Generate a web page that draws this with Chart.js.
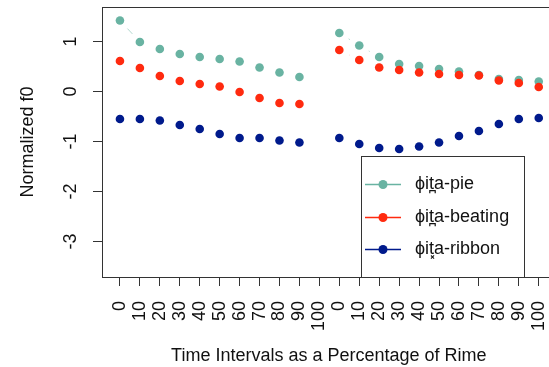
<!DOCTYPE html>
<html lang="en">
<head>
<meta charset="UTF-8">
<title>Normalized f0 over the rime</title>
<script src="https://cdn.jsdelivr.net/npm/chart.js"></script>
<style>
  html, body { margin: 0; padding: 0; background: #fff; overflow: hidden; }
  #f0Canvas { display: block; }
</style>
</head>
<body>
<canvas id="f0Canvas" width="560" height="367"></canvas>
<script>
// two rimes, each sampled at 0..100 % (the first one has no value at 100)
const tickLabels = ["0", "10", "20", "30", "40", "50", "60", "70", "80", "90", "100",
                    "0", "10", "20", "30", "40", "50", "60", "70", "80", "90", "100"];
const yTickValues = [-3, -2, -1, 0, 1];
const seriesNames = ["\u03D5it\u032Aa-pie", "\u03D5it\u032Aa-beating", "\u03D5it\u0353a-ribbon"];
const seriesColors = ["#69b3a2", "#ff2a0f", "#001a8c"];
const lineColors = ["rgba(105,179,162,0.5)", "rgba(255,42,15,0.5)", "rgba(0,26,140,0.5)"];

const pieValues     = [1.42, 0.99, 0.85, 0.75, 0.69, 0.65, 0.60, 0.48, 0.38, 0.29, null,
                       1.17, 0.92, 0.69, 0.55, 0.51, 0.45, 0.40, 0.33, 0.25, 0.23, 0.20];
const beatingValues = [0.61, 0.47, 0.31, 0.21, 0.15, 0.10, -0.01, -0.13, -0.23, -0.25, null,
                       0.83, 0.63, 0.48, 0.43, 0.38, 0.35, 0.33, 0.32, 0.22, 0.17, 0.09];
const ribbonValues  = [-0.55, -0.55, -0.58, -0.67, -0.75, -0.85, -0.93, -0.93, -0.98, -1.02, null,
                       -0.93, -1.05, -1.13, -1.15, -1.10, -1.02, -0.89, -0.79, -0.65, -0.55, -0.53];

const inkColor = "#111";
const frameColor = "#333";
Chart.defaults.font.family = "'Liberation Sans', Arial, sans-serif";
Chart.defaults.font.size = 18;
Chart.defaults.color = inkColor;

function toPoints(values) {
  return values.map((v, i) => ({ x: i, y: v }));
}

// R type="b": lines stop short of the points, so only long gaps show a bit of line
const gapPx = 11;
function segmentDash(ctx) {
  const d = Math.hypot(ctx.p1.x - ctx.p0.x, ctx.p1.y - ctx.p0.y);
  if (d <= 2 * gapPx) return [0, 10000];
  return [0, gapPx, d - 2 * gapPx, 10000];
}

function makeDataset(i, values) {
  return {
    label: seriesNames[i],
    data: toPoints(values),
    borderColor: lineColors[i],
    backgroundColor: seriesColors[i],
    borderWidth: 1,
    pointRadius: 4.3,
    pointBorderWidth: 0,
    pointHoverRadius: 4.3,
    showLine: true,
    spanGaps: false,
    segment: { borderDash: segmentDash },
    order: 3 - i
  };
}

// no extra room for overhanging labels, the plot box is fixed
function noScalePadding(scale) {
  scale.paddingTop = 0;
  scale.paddingBottom = 0;
  scale.paddingLeft = 0;
  scale.paddingRight = 0;
}

// box around the plot + R style legend
const framePlugin = {
  id: "frame",
  afterDraw(chart) {
    const { ctx, chartArea: a } = chart;
    ctx.save();
    ctx.strokeStyle = frameColor;
    ctx.lineWidth = 1;
    ctx.strokeRect(Math.round(a.left) + 0.5, Math.round(a.top) + 0.5,
                   Math.round(a.right - a.left), Math.round(a.bottom - a.top));

    const boxLeft = 361, boxTop = 156, boxRight = 524, boxBottom = Math.round(a.bottom);
    ctx.fillStyle = "#fff";
    ctx.fillRect(boxLeft, boxTop, boxRight - boxLeft, boxBottom - boxTop);
    ctx.strokeRect(boxLeft + 0.5, boxTop + 0.5, boxRight - boxLeft, boxBottom - boxTop);

    const rowY = [184, 217, 249];
    ctx.font = "18px 'Liberation Sans', Arial, sans-serif";
    ctx.textBaseline = "middle";
    ctx.textAlign = "left";
    chart.data.datasets.forEach((ds, i) => {
      const y = rowY[i];
      ctx.strokeStyle = seriesColors[i];
      ctx.lineWidth = 1.3;
      ctx.beginPath();
      ctx.moveTo(365, y + 0.5);
      ctx.lineTo(401, y + 0.5);
      ctx.stroke();
      ctx.fillStyle = seriesColors[i];
      ctx.beginPath();
      ctx.arc(383, y + 0.5, 4.5, 0, Math.PI * 2);
      ctx.fill();
      ctx.fillStyle = inkColor;
      ctx.fillText(ds.label, 415, y);
    });
    ctx.restore();
  }
};

new Chart(document.getElementById("f0Canvas").getContext("2d"), {
  type: "line",
  data: {
    datasets: [
      makeDataset(0, pieValues),
      makeDataset(1, beatingValues),
      makeDataset(2, ribbonValues)
    ]
  },
  options: {
    responsive: false,
    animation: false,
    layout: { padding: { top: 7, right: 3, left: 0, bottom: 0 } },
    plugins: {
      legend: { display: false },
      tooltip: { enabled: false }
    },
    scales: {
      x: {
        type: "linear",
        min: -0.9,
        max: 21.85,
        afterBuildTicks: scale => {
          scale.ticks = tickLabels.map((_, i) => ({ value: i }));
        },
        afterFit: scale => { scale.height = 90; noScalePadding(scale); },
        ticks: {
          autoSkip: false,
          minRotation: 90,
          maxRotation: 90,
          padding: 15,
          color: inkColor,
          callback: value => tickLabels[value]
        },
        grid: { drawOnChartArea: false, drawTicks: true, tickLength: 9, color: frameColor },
        border: { display: true, color: frameColor },
        title: {
          display: true,
          text: "Time Intervals as a Percentage of Rime",
          color: inkColor,
          padding: { top: 0, bottom: 0 }
        }
      },
      y: {
        min: -3.71,
        max: 1.69,
        afterBuildTicks: scale => {
          scale.ticks = yTickValues.map(v => ({ value: v }));
        },
        afterFit: scale => { scale.width = 102; noScalePadding(scale); },
        ticks: {
          minRotation: 90,
          maxRotation: 90,
          crossAlign: "center",
          padding: 14,
          color: inkColor
        },
        grid: { drawOnChartArea: false, drawTicks: true, tickLength: 9, color: frameColor },
        border: { display: true, color: frameColor },
        title: {
          display: true,
          text: "Normalized f0",
          color: inkColor,
          padding: { top: 17, bottom: 0 }
        }
      }
    }
  },
  plugins: [framePlugin]
});
</script>
</body>
</html>
